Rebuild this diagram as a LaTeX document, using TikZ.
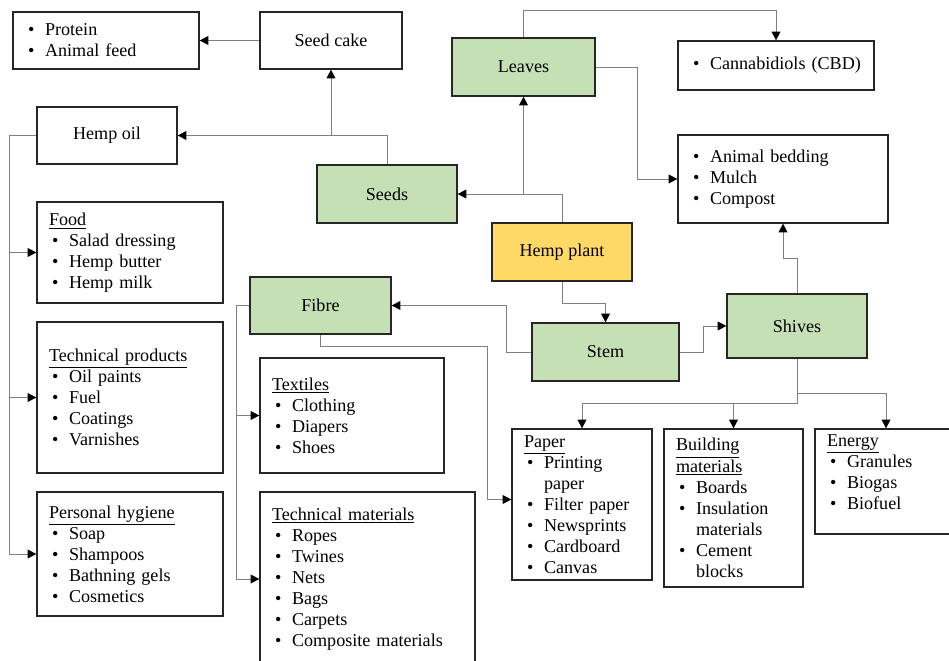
\documentclass[tikz,border=0pt]{standalone}
\usepackage{fontspec}
\setmainfont{Liberation Serif}
\usepackage{xcolor}
\usetikzlibrary{arrows.meta}
\definecolor{leafgreen}{HTML}{C5E0B4}
\definecolor{plantyellow}{HTML}{FFD966}
\definecolor{linkgray}{HTML}{7F7F7F}
\newcommand{\itm}[1]{\hspace*{1.7pt}\makebox[9.7pt][l]{\textbullet}#1}
\newcommand{\itmx}[1]{\hspace*{11.4pt}#1}

\begin{document}
\begin{tikzpicture}[x=0.02cm, y=-0.02cm,
  every node/.style={font=\fontsize{10.3}{12}\selectfont},
  box/.style={draw=black!85, line width=0.7pt, inner sep=0pt},
  part/.style={box, fill=leafgreen},
  list/.style={box, align=left, inner xsep=0.24cm},
  link/.style={draw=linkgray, line width=0.55pt},
  arr/.style={link, -{Triangle[length=5pt,width=5pt,color=black]}}]
\useasboundingbox (0,0) rectangle (949,661);
\fill[white] (0,0) rectangle (949,661);
% Define the nodes
\node[box, fill=plantyellow, minimum width=2.8cm, minimum height=1.16cm] at (562,252) (hemp) {Hemp plant};
\node[part, minimum width=2.8cm, minimum height=1.16cm] at (387,194) (seeds) {Seeds};
\node[part, minimum width=2.86cm, minimum height=1.16cm] at (523.5,67) (leaves) {Leaves};
\node[part, minimum width=2.94cm, minimum height=1.16cm] at (605.5,352) (stem) {Stem};
\node[part, minimum width=2.8cm, minimum height=1.28cm] at (797,326) (shives) {Shives};
\node[part, minimum width=2.82cm, minimum height=1.14cm] at (320.5,305.5) (fibre) {Fibre};
\node[box, minimum width=2.84cm, minimum height=1.14cm] at (331,40.5) (seedcake) {Seed cake};
\node[box, minimum width=2.8cm, minimum height=1.14cm] at (107,135.5) (hempoil) {Hemp oil};
\node[list, text width=3.24cm, minimum height=1.14cm] at (106,40.5) (protein) {\itm{Protein}\\\itm{Animal feed}};
\node[list, text width=3.44cm, minimum height=0.98cm] at (776,65.5) (cbd) {\itm{Cannabidiols (CBD)}};
\node[list, text width=3.72cm, minimum height=1.76cm] at (783,179) (bedding) {\itm{Animal bedding}\\\itm{Mulch}\\\itm{Compost}};
\node[list, text width=3.24cm, minimum height=2.02cm] at (130,252.5) (food) {\underline{Food}\\\itm{Salad dressing}\\\itm{Hemp butter}\\\itm{Hemp milk}};
\node[list, text width=3.24cm, minimum height=3.02cm] at (130,397.5) (techprod) {\underline{Technical products}\\\itm{Oil paints}\\\itm{Fuel}\\\itm{Coatings}\\\itm{Varnishes}};
\node[list, text width=3.24cm, minimum height=2.48cm] at (130,554) (hygiene) {\underline{Personal hygiene}\\\itm{Soap}\\\itm{Shampoos}\\\itm{Bathning gels}\\\itm{Cosmetics}};
\node[list, text width=3.2cm, minimum height=2.3cm] at (352,415.5) (textiles) {\underline{Textiles}\\\itm{Clothing}\\\itm{Diapers}\\\itm{Shoes}};
\node[list, text width=3.82cm, minimum height=3.48cm] at (367.5,579) (techmat) {\underline{Technical materials}\\\itm{Ropes}\\\itm{Twines}\\\itm{Nets}\\\itm{Bags}\\\itm{Carpets}\\\itm{Composite materials}};
\node[list, text width=2.32cm, minimum height=3.02cm] at (582,504.5) (paper) {\underline{Paper}\\\itm{Printing}\\\itmx{paper}\\\itm{Filter paper}\\\itm{Newsprints}\\\itm{Cardboard}\\\itm{Canvas}};
\node[list, text width=2.3cm, minimum height=3.16cm] at (733.5,508) (building) {\underline{Building}\\\underline{materials}\\\itm{Boards}\\\itm{Insulation}\\\itmx{materials}\\\itm{Cement}\\\itmx{blocks}};
\node[list, text width=2.36cm, minimum height=2.1cm] at (886,481.5) (energy) {\underline{Energy}\\\itm{Granules}\\\itm{Biogas}\\\itm{Biofuel}\\[-4.5pt]\strut};
% Draw the paths
\draw[arr] (seedcake.west) -- (protein.east);
\draw[arr] (seeds.north) |- (hempoil.east);
\draw[arr] (seedcake.south |- hempoil.east) -- (seedcake.south);
\draw[arr] (hempoil.west) -- ++(-27,0) coordinate (oilbus) |- (hygiene.west);
\draw[arr] (oilbus |- food.west) -- (food.west);
\draw[arr] (oilbus |- techprod.west) -- (techprod.west);
\draw[arr] (hemp.north) |- (seeds.east);
\draw[arr] (leaves.south |- seeds.east) -- (leaves.south);
\draw[arr] (leaves.north) -- ++(0,-27) -| (cbd.north);
\draw[arr] (leaves.east) -- ++(42,0) |- (bedding.west);
\draw[arr] (hemp.south) -- ++(0,22) -| (stem.north);
\draw[arr] (stem.west) -- ++(-25,0) |- (fibre.east);
\draw[arr] (stem.east) -- ++(24,0) |- (shives.west);
\draw[arr] (shives.north) -- ++(0,-35) -| (bedding.south);
\draw[arr] (shives.south) -- ++(0,45) coordinate (shivbus) -| (paper.north);
\draw[arr] (shivbus -| building.north) -- (building.north);
\draw[arr] (shives.south) -- ++(0,35) -| (energy.north);
\draw[arr] (fibre.west) -- ++(-13,0) coordinate (fibrebus) |- (techmat.west);
\draw[arr] (fibrebus |- textiles.west) -- (textiles.west);
\draw[arr] (fibre.south) -- ++(0,12) -- ++(166.5,0) |- ([yshift=0.1cm]paper.west);
\end{tikzpicture}
\end{document}
